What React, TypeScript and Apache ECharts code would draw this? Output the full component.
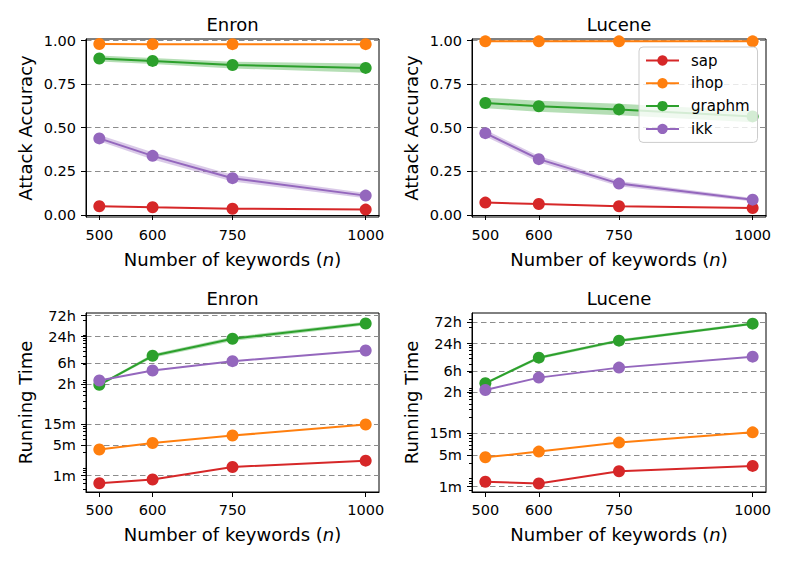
import { useEffect, useRef } from 'react';
import * as echarts from 'echarts';

// ---------- data ----------
const keywords = [500, 600, 750, 1000];
const keywordTicks = [500, 600, 750, 1000];
const methods = ['sap', 'ihop', 'graphm', 'ikk'];
const methodColors = ['#d62728', '#ff7f0e', '#2ca02c', '#9467bd'];
const datasetTitles = ['Enron', 'Lucene', 'Enron', 'Lucene'];

const accTicks = [0, 0.25, 0.5, 0.75, 1.0];
const timeTickValues = [60, 300, 900, 7200, 21600, 86400, 259200]; // seconds
const timeTickLabels = ['1m', '5m', '15m', '2h', '6h', '24h', '72h'];
const timeMinorTicks = [
  20, 30, 40, 50, 70, 80, 90,
  200, 400, 500, 600, 700, 800,
  2000, 3000, 4000, 5000, 6000, 7000, 8000, 9000,
  20000, 30000, 40000, 50000, 60000, 70000, 80000, 90000,
  200000, 300000,
];

// Enron attack accuracy
const enronAccSap = [0.05, 0.044, 0.036, 0.031];
const enronAccIhop = [0.98, 0.979, 0.979, 0.979];
const enronAccGraphm = [0.897, 0.883, 0.86, 0.843];
const enronAccIkk = [0.439, 0.339, 0.211, 0.111];
const enronAccGraphmLo = [0.88, 0.866, 0.84, 0.815];
const enronAccGraphmHi = [0.914, 0.9, 0.878, 0.868];
const enronAccIkkLo = [0.422, 0.318, 0.192, 0.096];
const enronAccIkkHi = [0.458, 0.36, 0.23, 0.126];

// Lucene attack accuracy
const luceneAccSap = [0.071, 0.063, 0.05, 0.04];
const luceneAccIhop = [0.995, 0.995, 0.995, 0.995];
const luceneAccGraphm = [0.642, 0.623, 0.605, 0.565];
const luceneAccIkk = [0.469, 0.32, 0.18, 0.088];
const luceneAccGraphmLo = [0.612, 0.592, 0.572, 0.532];
const luceneAccGraphmHi = [0.672, 0.655, 0.638, 0.598];
const luceneAccIkkLo = [0.45, 0.302, 0.165, 0.078];
const luceneAccIkkHi = [0.488, 0.338, 0.195, 0.098];

// Enron running time (seconds)
const enronTimeSap = [40, 49, 94, 131];
const enronTimeIhop = [234, 330, 486, 864];
const enronTimeGraphm = [6900, 31500, 76600, 171000];
const enronTimeIkk = [8640, 14600, 23800, 41600];
const enronTimeGraphmLo = [6500, 28500, 68000, 155000];
const enronTimeGraphmHi = [7300, 34500, 85000, 188000];

// Lucene running time (seconds)
const luceneTimeSap = [77, 70, 131, 172];
const luceneTimeIhop = [266, 356, 562, 948];
const luceneTimeGraphm = [11460, 42240, 100300, 238000];
const luceneTimeIkk = [8160, 15300, 25440, 44460];
const luceneTimeGraphmLo = [10800, 39000, 93000, 222000];
const luceneTimeGraphmHi = [12200, 45500, 108000, 254000];

// ---------- layout ----------
const FONT = '"DejaVu Sans", sans-serif';
const panels = [
  { left: 86, top: 39, width: 293, height: 178, kind: 'acc', yMin: -0.0115, yMax: 1.0086 },
  { left: 472, top: 39, width: 294, height: 178, kind: 'acc', yMin: -0.0115, yMax: 1.0086 },
  { left: 86, top: 313, width: 293, height: 179, kind: 'time', yMin: 25.4, yMax: 295500 },
  { left: 472, top: 313, width: 294, height: 179, kind: 'time', yMin: 45.6, yMax: 409000 },
];

const panelLines = [
  [enronAccSap, enronAccIhop, enronAccGraphm, enronAccIkk],
  [luceneAccSap, luceneAccIhop, luceneAccGraphm, luceneAccIkk],
  [enronTimeSap, enronTimeIhop, enronTimeGraphm, enronTimeIkk],
  [luceneTimeSap, luceneTimeIhop, luceneTimeGraphm, luceneTimeIkk],
];

// [panel, methodIndex, lo, hi]
const panelBands: [number, number, number[], number[]][] = [
  [0, 2, enronAccGraphmLo, enronAccGraphmHi],
  [0, 3, enronAccIkkLo, enronAccIkkHi],
  [1, 2, luceneAccGraphmLo, luceneAccGraphmHi],
  [1, 3, luceneAccIkkLo, luceneAccIkkHi],
  [2, 2, enronTimeGraphmLo, enronTimeGraphmHi],
  [3, 2, luceneTimeGraphmLo, luceneTimeGraphmHi],
];

function timeLabel(v: number) {
  const i = timeTickValues.findIndex((t) => Math.abs(t - v) / t < 1e-4);
  return i >= 0 ? timeTickLabels[i] : '';
}

function buildOption() {
  const grid = panels.map((p) => ({
    left: p.left,
    top: p.top,
    width: p.width,
    height: p.height,
    show: true,
    borderColor: '#000',
    borderWidth: 1,
    backgroundColor: 'transparent',
  }));

  const xAxis = panels.map((_, i) => ({
    type: 'value',
    gridIndex: i,
    min: 475,
    max: 1025,
    axisLine: { show: true, lineStyle: { color: '#000', width: 1 } },
    axisTick: { show: true, length: 5, customValues: keywordTicks, lineStyle: { color: '#000', width: 1 } },
    axisLabel: {
      customValues: keywordTicks,
      formatter: (v: number) => String(Math.round(v)),
      color: '#000',
      fontSize: 14.5,
      fontFamily: FONT,
      margin: 10,
    },
    splitLine: { show: false },
    name: 'Number of keywords ({i|n})',
    nameLocation: 'middle',
    nameGap: 33,
    nameTextStyle: {
      fontSize: 18,
      color: '#000',
      fontFamily: FONT,
      rich: { i: { fontStyle: 'italic', fontSize: 18, color: '#000', fontFamily: FONT } },
    },
  }));

  const splitLine = { show: true, lineStyle: { color: '#8c8c8c', width: 1, type: [5.5, 3.5] } };

  const yAxis: any[] = panels.map((p, i) => {
    const base: any = {
      gridIndex: i,
      min: p.yMin,
      max: p.yMax,
      position: 'left',
      axisLine: { show: true, lineStyle: { color: '#000', width: 1 } },
      splitLine,
      nameLocation: 'middle',
      nameGap: 52,
      nameTextStyle: { fontSize: 18, color: '#000', fontFamily: FONT },
    };
    if (p.kind === 'acc') {
      return {
        ...base,
        type: 'value',
        name: 'Attack Accuracy',
        axisTick: { show: true, length: 5, customValues: accTicks, lineStyle: { color: '#000' } },
        axisLabel: {
          customValues: accTicks,
          formatter: (v: number) => v.toFixed(2),
          color: '#000',
          fontSize: 14.5,
          fontFamily: FONT,
          margin: 10,
        },
      };
    }
    return {
      ...base,
      type: 'log',
      logBase: 10,
      name: 'Running Time',
      axisTick: { show: true, length: 5, customValues: timeTickValues, lineStyle: { color: '#000' } },
      axisLabel: {
        customValues: timeTickValues,
        formatter: (v: number) => timeLabel(v),
        color: '#000',
        fontSize: 14.5,
        fontFamily: FONT,
        margin: 10,
      },
    };
  });
  // minor tick axes for log panels
  [2, 3].forEach((i) => {
    const p = panels[i];
    yAxis.push({
      type: 'log',
      logBase: 10,
      gridIndex: i,
      min: p.yMin,
      max: p.yMax,
      position: 'left',
      axisLine: { show: false },
      axisTick: { show: true, length: 3, customValues: timeMinorTicks, lineStyle: { color: '#000' } },
      axisLabel: { show: false },
      splitLine: { show: false },
    });
  });

  const series: any[] = [];
  panelBands.forEach(([p, m, lo, hi], bi) => {
    series.push({
      type: 'custom',
      name: 'band-' + bi,
      xAxisIndex: p,
      yAxisIndex: p,
      silent: true,
      z: 1,
      clip: true,
      data: keywords.map((k, j) => [k, lo[j], hi[j]]),
      encode: { x: 0, y: [1, 2] },
      renderItem: (params: any, api: any) => {
        if (params.dataIndex !== 0) return null;
        const upper = keywords.map((k, j) => api.coord([k, hi[j]]));
        const lower = keywords.map((k, j) => api.coord([k, lo[j]])).reverse();
        return {
          type: 'polygon',
          shape: { points: upper.concat(lower) },
          style: { fill: methodColors[m], opacity: 0.35 },
        };
      },
    });
  });

  panelLines.forEach((lines, p) => {
    lines.forEach((vals, m) => {
      series.push({
        type: 'line',
        name: methods[m],
        xAxisIndex: p,
        yAxisIndex: p,
        data: keywords.map((k, j) => [k, vals[j]]),
        symbol: 'circle',
        symbolSize: 12,
        lineStyle: { width: 2, color: methodColors[m] },
        itemStyle: { color: methodColors[m] },
        z: 3,
      });
    });
  });

  const titleCenters = [
    [232.5, 24.3],
    [619, 24.3],
    [232.5, 298.3],
    [619, 298.3],
  ];
  const graphic = titleCenters.map(([x, y], i) => ({
    type: 'text',
    x,
    y,
    style: {
      text: datasetTitles[i],
      font: '18px "DejaVu Sans", sans-serif',
      fill: '#000',
      align: 'center',
      verticalAlign: 'middle',
      textAlign: 'center',
      textVerticalAlign: 'middle',
    },
  }));

  return {
    animation: false,
    backgroundColor: '#fff',
    textStyle: { fontFamily: FONT },
    grid,
    xAxis,
    yAxis,
    series,
    graphic,
    legend: {
      data: methods,
      orient: 'vertical',
      left: 639,
      top: 47,
      padding: [6, 8, 6, 6],
      itemWidth: 33,
      itemHeight: 13,
      itemGap: 7.8,
      backgroundColor: 'rgba(255,255,255,0.8)',
      borderColor: '#cccccc',
      borderWidth: 1,
      borderRadius: 4,
      textStyle: { fontSize: 15, color: '#000', fontFamily: FONT, padding: [0, 0, 0, 7] },
    },
  };
}

export default function App() {
  const ref = useRef<HTMLDivElement>(null);
  useEffect(() => {
    const chart = echarts.init(ref.current!, null, { renderer: 'svg' });
    chart.setOption(buildOption() as any);
    return () => chart.dispose();
  }, []);
  return <div ref={ref} style={{ position: 'fixed', left: 0, top: 0, width: 789, height: 564 }} />;
}
